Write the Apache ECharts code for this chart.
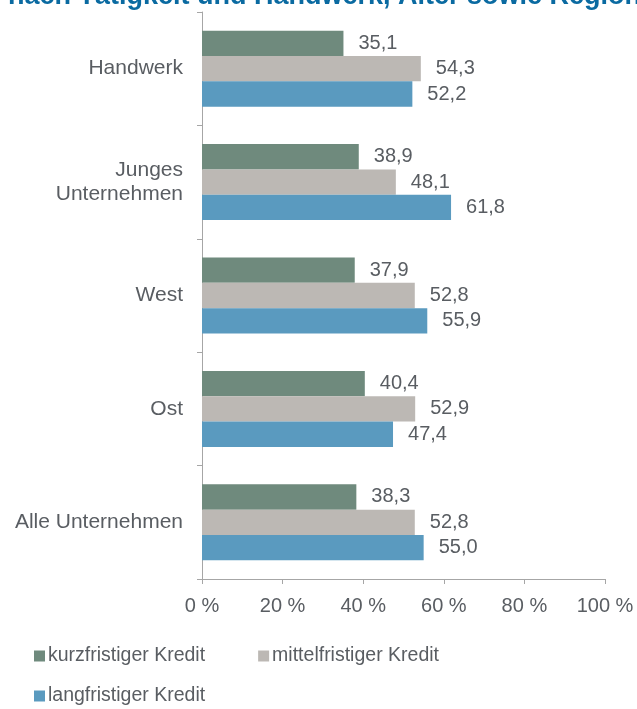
<!DOCTYPE html>
<html>
<head>
<meta charset="utf-8">
<script src="https://cdn.jsdelivr.net/npm/echarts@6/dist/echarts.min.js"></script>
<style>
  html, body { margin: 0; padding: 0; background: #fff; }
  #chart { width: 637px; height: 709px; }
</style>
</head>
<body>
<div id="chart"></div>
<script>
// Kreditarten nach Gruppe — horizontal grouped bars, values in percent

const categories = ['Handwerk', 'Junges\nUnternehmen', 'West', 'Ost', 'Alle Unternehmen'];
const kurzfristig = [35.1, 38.9, 37.9, 40.4, 38.3];
const mittelfristig = [54.3, 48.1, 52.8, 52.9, 52.8];
const langfristig = [52.2, 61.8, 55.9, 47.4, 55.0];
const seriesNames = ['kurzfristiger Kredit', 'mittelfristiger Kredit', 'langfristiger Kredit'];
const colors = ['#6f8a7d', '#bcb8b4', '#5a9abf'];

const TEXT = '#595d62';
const FONT = '"Liberation Sans", Arial, sans-serif';
const AXIS_LINE = '#a6a6a6';

const fmt = (v) => v.toFixed(1).replace('.', ',');

const barSeries = (name, data, color) => ({
  name, type: 'bar', data,
  barGap: '0%', barCategoryGap: '33%',
  itemStyle: { color },
  label: {
    show: true, position: 'right', distance: 15,
    color: TEXT, fontFamily: FONT, fontSize: 20,
    formatter: (p) => fmt(p.value),
  },
});

const legendText = { color: TEXT, fontFamily: FONT, fontSize: 19.5, padding: [0, 0, 0, -2] };

const chart = echarts.init(document.getElementById('chart'));
chart.setOption({
  animation: false,
  title: {
    text: 'nach Tätigkeit und Handwerk, Alter sowie Region',
    left: 8, top: -17, padding: 0,
    textStyle: { color: '#0a6aa1', fontFamily: FONT, fontWeight: 'bold', fontSize: 27 },
  },
  grid: { left: 202, right: 32, top: 12, bottom: 130, containLabel: false },
  xAxis: {
    type: 'value', min: 0, max: 100, interval: 20,
    axisLine: { show: true, lineStyle: { color: AXIS_LINE } },
    axisTick: { show: true, length: 5, lineStyle: { color: AXIS_LINE } },
    splitLine: { show: false },
    axisLabel: { color: TEXT, fontFamily: FONT, fontSize: 20, margin: 17,
      formatter: (v) => v + ' %' },
  },
  yAxis: {
    type: 'category', data: categories, inverse: true,
    axisLine: { show: true, lineStyle: { color: AXIS_LINE } },
    axisTick: { show: true, length: 5, lineStyle: { color: AXIS_LINE } },
    axisLabel: { color: TEXT, fontFamily: FONT, fontSize: 21, margin: 19,
      align: 'right', lineHeight: 24 },
  },
  legend: [
    {
      data: seriesNames.slice(0, 2), left: 34, top: 646, padding: 0,
      icon: 'rect', itemWidth: 11, itemHeight: 11, itemGap: 53,
      textStyle: legendText,
    },
    {
      data: seriesNames.slice(2), left: 34, top: 686, padding: 0,
      icon: 'rect', itemWidth: 11, itemHeight: 11,
      textStyle: legendText,
    },
  ],
  series: [
    barSeries(seriesNames[0], kurzfristig, colors[0]),
    barSeries(seriesNames[1], mittelfristig, colors[1]),
    barSeries(seriesNames[2], langfristig, colors[2]),
  ],
});
</script>
</body>
</html>
